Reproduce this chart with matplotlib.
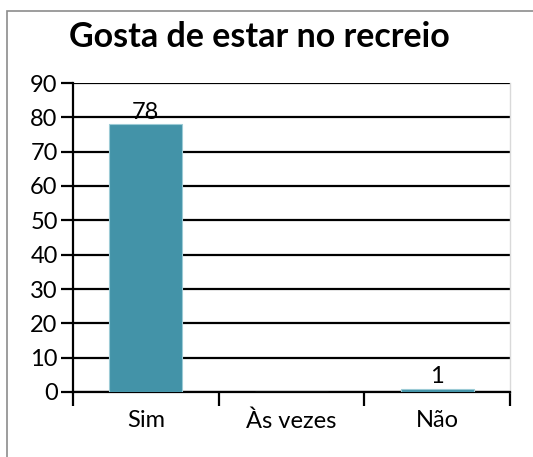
import matplotlib
matplotlib.use("Agg")
import matplotlib.pyplot as plt
from matplotlib.patches import Rectangle

categories = ["Sim", "Às vezes", "Não"]
values = [78, 0, 1]
value_labels = ["78", "", "1"]
title = "Gosta de estar no recreio"
yticks = list(range(0, 100, 10))

W, H = 533, 457
fig = plt.figure(figsize=(W / 100, H / 100), dpi=100)
fig.patch.set_facecolor("white")

# outer chart frame (runs off the right and bottom edges)
fig.patches.append(Rectangle((7 / W, -0.1), 1.2, (H - 10.5) / H + 0.1,
                             transform=fig.transFigure, fill=False,
                             edgecolor="#8c8c8c", linewidth=1.2))

ax = fig.add_axes([73 / W, (H - 392) / H, (510 - 73) / W, (392 - 83) / H])
font = "Lato"
fs = 17

x = list(range(len(categories)))
bars = ax.bar(x, values, width=0.5, color="#4393A8", edgecolor="#9ccbd6",
              linewidth=0.8, zorder=3)
for xi, v, lab in zip(x, values, value_labels):
    if lab:
        ax.text(xi, v + 0.4, lab, ha="center", va="bottom",
                fontsize=fs, family=font, color="black", zorder=4)

ax.set_xlim(-0.5, 2.5)
ax.set_ylim(0, 90)
ax.set_yticks(yticks)
ax.set_yticklabels([str(t) for t in yticks], family=font, fontsize=fs)
ax.yaxis.grid(True, color="black", linewidth=1.6, zorder=1)
ax.set_axisbelow(True)

# category ticks on boundaries, labels centred
ax.set_xticks([-0.5, 0.5, 1.5, 2.5])
ax.set_xticklabels([])
ax.set_xticks(x, minor=True)
ax.set_xticklabels(categories, minor=True, family=font, fontsize=fs)
ax.tick_params(axis="x", which="major", length=10, width=1.6, direction="out")
ax.tick_params(axis="x", which="minor", length=0, pad=13)
ax.tick_params(axis="y", length=9, width=1.6, direction="out", pad=2)

for side in ["left", "bottom"]:
    ax.spines[side].set_linewidth(1.6)
    ax.spines[side].set_color("black")
ax.spines["top"].set_visible(False)
ax.spines["right"].set_color("#d9d9d9")
ax.spines["right"].set_linewidth(1.0)

fig.text(259 / W, (H - 47) / H, title, ha="center", va="baseline",
         fontsize=24.5, fontweight="bold", family=font)

fig.savefig("out.png", dpi=100)
